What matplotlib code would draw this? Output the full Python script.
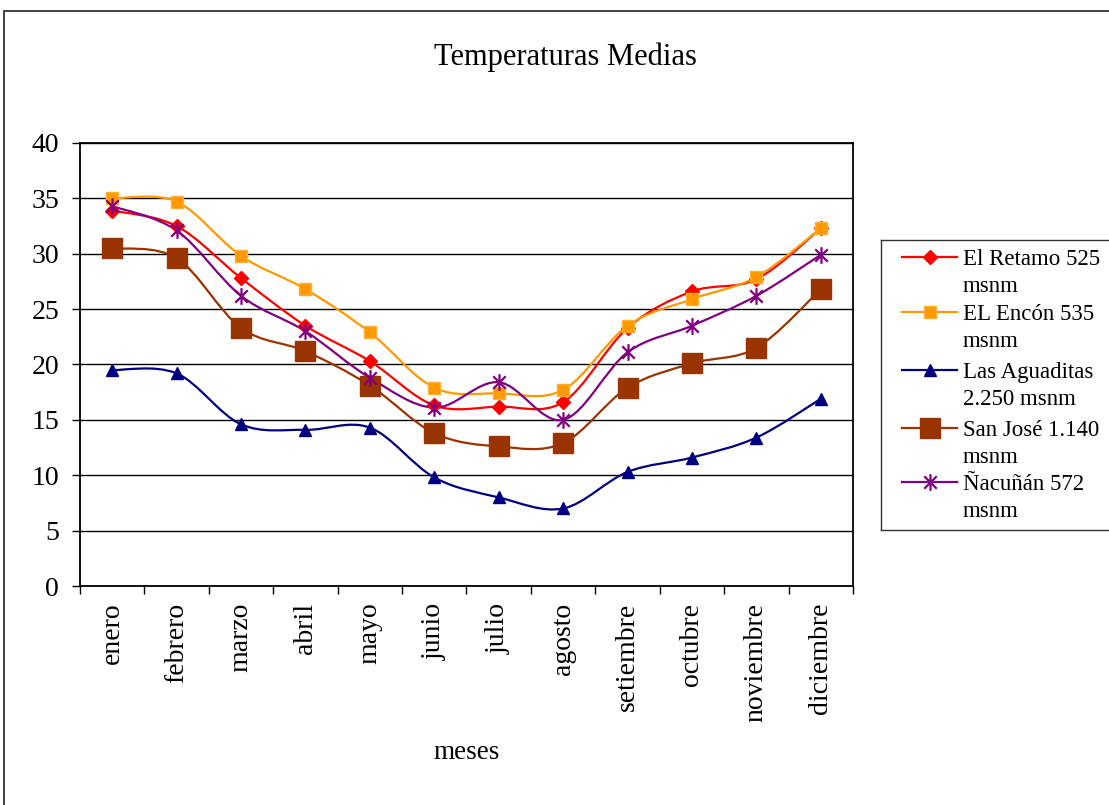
import numpy as np
import matplotlib
matplotlib.use("Agg")
import matplotlib.pyplot as plt
from matplotlib.path import Path
from matplotlib.patches import PathPatch, Rectangle
from matplotlib.lines import Line2D

plt.rcParams['font.family'] = ['Liberation Serif', 'DejaVu Serif']

meses = ["enero", "febrero", "marzo", "abril", "mayo", "junio", "julio",
         "agosto", "setiembre", "octubre", "noviembre", "diciembre"]

el_retamo = [33.9, 32.5, 27.8, 23.5, 20.3, 16.3, 16.2, 16.6, 23.3, 26.6, 27.7, 32.3]
el_encon = [35.0, 34.7, 29.8, 26.8, 22.9, 17.9, 17.4, 17.7, 23.5, 25.9, 27.9, 32.3]
las_aguaditas = [19.5, 19.2, 14.6, 14.1, 14.3, 9.8, 8.0, 7.0, 10.3, 11.6, 13.4, 16.9]
san_jose = [30.5, 29.6, 23.3, 21.2, 18.1, 13.8, 12.6, 12.9, 17.9, 20.1, 21.5, 26.8]
nacunan = [34.3, 32.1, 26.2, 23.0, 18.8, 16.1, 18.4, 15.0, 21.1, 23.5, 26.2, 29.9]

etiquetas = [("El Retamo 525", "msnm"), ("EL Encón 535", "msnm"),
             ("Las Aguaditas", "2.250 msnm"), ("San José 1.140", "msnm"),
             ("Ñacuñán 572", "msnm")]

# asterisk-style marker: vertical bar plus an X
star = Path([(0, -1), (0, 1), (-0.75, -0.75), (0.75, 0.75), (-0.75, 0.75), (0.75, -0.75)],
            [Path.MOVETO, Path.LINETO, Path.MOVETO, Path.LINETO, Path.MOVETO, Path.LINETO])

estilos = [
    dict(color="#FF0000", marker="D", ms=7.5, mec="#FF0000", mfc="#FF0000", mew=1),
    dict(color="#FF9900", marker="s", ms=8.5, mec="#FFB030", mfc="#FF9900", mew=1),
    dict(color="#000080", marker="^", ms=9, mec="#000080", mfc="#000080", mew=1),
    dict(color="#993300", marker="s", ms=14, mec="#993300", mfc="#993300", mew=1),
    dict(color="#800080", marker=star, ms=12, mec="#800080", mfc="none", mew=1.6),
]
series = [el_retamo, el_encon, las_aguaditas, san_jose, nacunan]


def smooth_path(x, y):
    """Cubic Bezier path through the points (Catmull-Rom style control points)."""
    pts = np.column_stack([x, y]).astype(float)
    n = len(pts)
    verts = [pts[0]]
    codes = [Path.MOVETO]
    for i in range(n - 1):
        p0 = pts[i - 1] if i > 0 else pts[i]
        p1 = pts[i]
        p2 = pts[i + 1]
        p3 = pts[i + 2] if i + 2 < n else pts[i + 1]
        c1 = p1 + (p2 - p0) / 6.0
        c2 = p2 - (p3 - p1) / 6.0
        verts += [c1, c2, p2]
        codes += [Path.CURVE4] * 3
    return Path(verts, codes)


W, H = 1109, 805
fig = plt.figure(figsize=(W / 100, H / 100), dpi=100)

# chart-area frame
fig.patches.append(Rectangle((3.5 / W, -0.02), 1.05, 1 - 11 / H + 0.02,
                             transform=fig.transFigure, fill=False,
                             edgecolor="#333333", lw=1.3, zorder=0))

ax = fig.add_axes([80 / W, 1 - 586 / H, (853 - 80) / W, (586 - 143) / H])
x = np.arange(len(meses))

for vals, st in zip(series, estilos):
    patch = PathPatch(smooth_path(x, vals), facecolor="none", edgecolor=st["color"],
                      lw=1.6, zorder=3)
    ax.add_patch(patch)
    ax.plot(x, vals, linestyle="none", marker=st["marker"], ms=st["ms"],
            mec=st["mec"], mfc=st["mfc"], mew=st["mew"], zorder=4, clip_on=False)

ax.set_xlim(-0.5, 11.5)
ax.set_ylim(0, 40)
ax.set_yticks(np.arange(0, 41, 5))
ax.set_xticks(x)
ax.set_xticklabels(meses, rotation=90, fontsize=20)
ax.set_xticks(np.arange(-0.5, 12, 1), minor=True)
ax.tick_params(axis="x", which="major", length=0, pad=12)
ax.tick_params(axis="x", which="minor", length=5.5, width=1, direction="out")
ax.tick_params(axis="y", length=6, width=1, direction="out", pad=9, labelsize=20)
ax.yaxis.grid(True, color="black", lw=1.0)
ax.set_axisbelow(True)
for s in ax.spines.values():
    s.set_linewidth(1.3)
    s.set_color("black")

fig.text(565 / W, 1 - 57 / H, "Temperaturas Medias", ha="center", va="center", fontsize=22)
fig.text(467 / W, 1 - 752 / H, "meses", ha="center", va="center", fontsize=19.5)

# legend
lg = fig.add_axes([881 / W, 1 - 530 / H, (1112 - 881) / W, (530 - 240) / H])
lg.set_xlim(881, 1112)
lg.set_ylim(530, 240)
lg.set_xticks([])
lg.set_yticks([])
for s in lg.spines.values():
    s.set_linewidth(1.0)
    s.set_color("#333333")
rows = [257, 312, 370, 428, 482]
for yy, st, (l1, l2) in zip(rows, estilos, etiquetas):
    lg.add_line(Line2D([902, 957], [yy, yy], color=st["color"], lw=1.6))
    lg.plot([929.5], [yy], linestyle="none", marker=st["marker"], ms=st["ms"],
            mec=st["mec"], mfc=st["mfc"], mew=st["mew"])
    lg.text(963, yy, l1, ha="left", va="center_baseline", fontsize=16.5)
    lg.text(963, yy + 27, l2, ha="left", va="center_baseline", fontsize=16.5)

fig.savefig("out.png", dpi=100)
